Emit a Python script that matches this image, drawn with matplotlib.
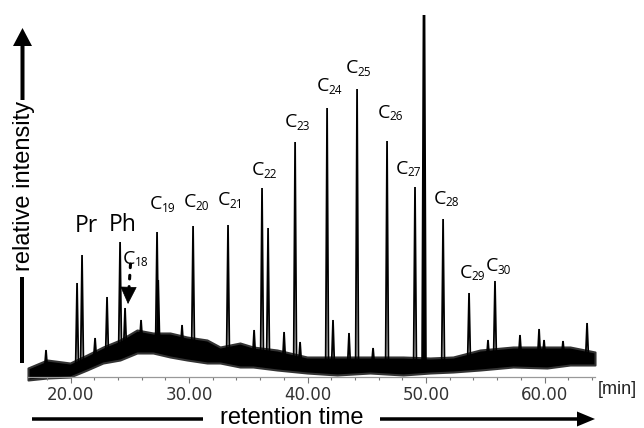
import numpy as np
import matplotlib
matplotlib.use('Agg')
import matplotlib.pyplot as plt
from matplotlib.ticker import MultipleLocator, FixedLocator

# ---------------- data ----------------
# noisy baseline envelope: retention time [min], lower / upper edge (rel. intensity units)
band_t = [16.41, 18.02, 19.96, 21.39, 22.74, 24.18, 25.61, 26.96, 28.40, 29.83, 31.52,
          32.62, 34.30, 35.40, 37.43, 39.96, 42.49, 45.27, 48.06, 50.34, 52.28, 54.56,
          57.34, 60.21, 62.15, 64.26]
band_lo = [-3, -1, 0, 7, 14, 17, 24, 24, 20, 17, 14, 14, 10, 10, 7, 4, 2, 4, 2, 4, 5, 7,
           10, 9, 12, 12]
band_hi = [9, 17, 14, 22, 30, 37, 47, 44, 44, 40, 37, 30, 34, 30, 27, 20, 20, 20, 20, 19,
           20, 27, 30, 30, 30, 25]

# labelled peaks
peak_names = ['Pr', 'Ph', '18', '19', '20', '21', '22', '23', '24', '25', '26', '27', '28', '29', '30']
peak_t = [20.97, 24.18, 24.60, 27.30, 30.34, 33.29, 36.16, 38.95, 41.65, 44.18, 46.71,
          49.07, 51.44, 53.63, 55.82]
peak_h = [122, 135, 69, 145, 151, 152, 189, 235, 269, 288, 236, 190, 158, 84, 96]

# unlabelled peaks
other_t = [17.93, 20.55, 22.07, 23.08, 25.95, 27.40, 29.41, 35.49, 36.67, 38.02, 39.37,
           42.15, 43.50, 45.53, 49.83, 55.23, 57.93, 59.54, 59.96, 61.56, 63.59]
other_h = [27, 94, 39, 80, 57, 97, 52, 47, 149, 45, 35, 57, 44, 29, 362, 37, 42, 48, 37, 36, 54]

major_ticks = [20, 30, 40, 50, 60]
major_labels = ['20.00', '30.00', '40.00', '50.00', '60.00']

# ---------------- label offsets (pixels: dx from peak, dy above peak top to baseline) ----
label_off = {'Pr': (-7, 23), 'Ph': (-11, 11), '18': (-2, 44), '19': (-7, 23), '20': (-9, 19),
             '21': (-10, 20), '22': (-10, 13), '23': (-10, 15), '24': (-10, 17),
             '25': (-11, 16), '26': (-9, 23), '27': (-19, 13), '28': (-9, 15),
             '29': (-9, 15), '30': (-9, 10)}

W, H = 644, 428
fig = plt.figure(figsize=(W / 100, H / 100), dpi=100)
ax = fig.add_axes([28 / W, 51 / H, (595 - 28) / W, 377 / H])
ax.set_xlim(band_t[0], band_t[-1])
ax.set_ylim(0, 377)

# baseline band
ax.fill_between(band_t, band_lo, band_hi, color='black', lw=1.5, edgecolor='#333333',
                clip_on=False)
band_mid = (np.array(band_lo) + np.array(band_hi)) / 2.0

def draw_peak(t, h, lw=1.3, hw=0.12):
    base = np.interp(t, band_t, band_mid)
    ax.plot([t - hw, t, t + hw], [base, h, base], color='black', lw=lw,
            solid_joinstyle='miter', clip_on=False)

for t, h in zip(peak_t, peak_h):
    draw_peak(t, h)
for t, h in zip(other_t, other_h):
    draw_peak(t, h, lw=2.0 if h > 300 else 1.3)

# labels
px = 0.72  # points per pixel
for name, t, h in zip(peak_names, peak_t, peak_h):
    dx, dy = label_off[name]
    if name in ('Pr', 'Ph'):
        ax.annotate(name, xy=(t, h), xytext=(dx * px, dy * px), textcoords='offset points',
                    ha='left', va='baseline', fontsize=16.5, family='Open Sans')
    else:
        ax.annotate('C', xy=(t, h), xytext=(dx * px, dy * px), textcoords='offset points',
                    ha='left', va='baseline', fontsize=14, family='Open Sans')
        ax.annotate(name, xy=(t, h), xytext=((dx + 11.5) * px, (dy - 2.5) * px),
                    textcoords='offset points', ha='left', va='baseline', fontsize=8.5,
                    family='Open Sans')

# C18 dotted arrow: solid filled head + dotted stem
i18 = peak_names.index('18')
tip = (peak_t[i18] + 0.25, peak_h[i18] + 4)
ax.annotate('', xy=tip, xytext=(0.5 * px, 16 * px), textcoords='offset points',
            arrowprops=dict(arrowstyle='-|>,head_length=1.15,head_width=0.55',
                            lw=0.5, color='black', shrinkA=0, shrinkB=0))
ax.annotate('', xy=tip, xycoords='data', xytext=(2.5 * px, 40 * px),
            textcoords='offset points',
            arrowprops=dict(arrowstyle='-', linestyle=(0, (1.2, 2.5)), lw=2.2,
                            color='black', shrinkA=0, shrinkB=17 * px))

# axis styling
for s in ('left', 'top', 'right'):
    ax.spines[s].set_visible(False)
ax.spines['bottom'].set_color('#999999')
ax.spines['bottom'].set_linewidth(0.9)
ax.set_yticks([])
ax.xaxis.set_major_locator(FixedLocator(major_ticks))
ax.set_xticklabels(major_labels)
ax.xaxis.set_minor_locator(MultipleLocator(2))
ax.tick_params(axis='x', which='major', direction='out', length=4.5, width=0.8,
               color='#777777', labelsize=12, labelcolor='#333333', pad=2)
ax.tick_params(axis='x', which='minor', direction='out', length=2.3, width=0.8,
               color='#777777')
ax.patch.set_alpha(0)

# decorations overlay (pixel coordinates)
deco = fig.add_axes([0, 0, 1, 1], zorder=-1)
deco.set_xlim(0, W)
deco.set_ylim(H, 0)
deco.axis('off')

deco.plot([32, 203], [419, 419], color='black', lw=3.5 * px, solid_capstyle='butt')
deco.arrow(380, 419, 595 - 380, 0, width=3.5, head_width=15, head_length=18,
           length_includes_head=True, color='black', lw=0)
deco.text(292, 418, 'retention time', ha='center', va='center', fontsize=17,
          family='Liberation Sans')
deco.text(598, 390, '[min]', ha='left', va='center', fontsize=13, family='Liberation Sans',
          color='#222222')

deco.arrow(22.5, 100, 0, -72, width=4, head_width=19, head_length=18,
           length_includes_head=True, color='black', lw=0)
deco.plot([22.5, 22.5], [277, 363], color='black', lw=4 * px, solid_capstyle='butt')
deco.text(24, 186, 'relative intensity', rotation=90, ha='center', va='center',
          fontsize=17, family='Liberation Sans')

fig.savefig('out.png', dpi=100)
